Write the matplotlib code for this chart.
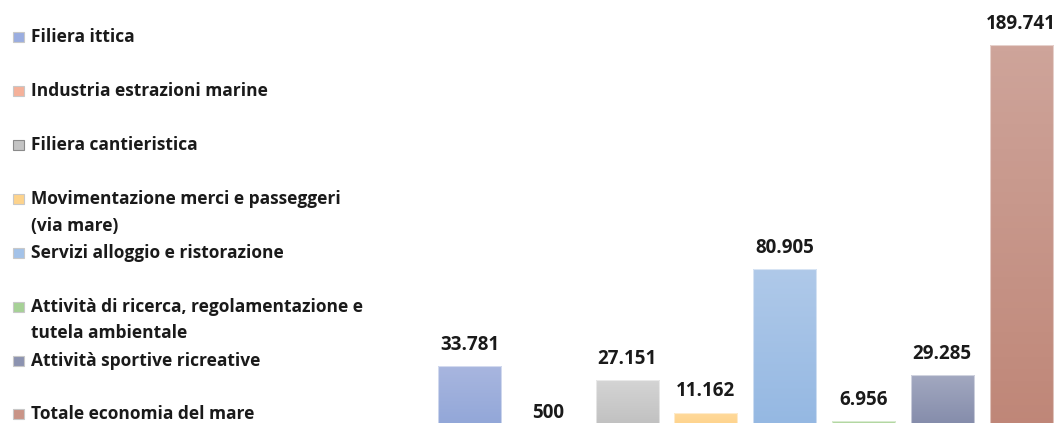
import numpy as np
import matplotlib
matplotlib.use('Agg')
import matplotlib.pyplot as plt
from matplotlib.patches import Rectangle

categories = ['Filiera ittica', 'Industria estrazioni marine', 'Filiera cantieristica',
              'Movimentazione merci e passeggeri\n(via mare)', 'Servizi alloggio e ristorazione',
              'Attività di ricerca, regolamentazione e\ntutela ambientale',
              'Attività sportive ricreative', 'Totale economia del mare']
values = [33781, 500, 27151, 11162, 80905, 6956, 29285, 189741]
# gradient colours (top, bottom) for each bar
top_colors = ['#a8b6df', '#f6bda5', '#d4d4d4', '#ffd99a', '#afc9e9', '#b4d8a4', '#a2a8c0', '#cea49a']
bottom_colors = ['#8ea4d7', '#f2a98a', '#bcbcbc', '#fdcd80', '#93b7e2', '#96c982', '#7e86a6', '#bf8677']
legend_colors = ['#9aade0', '#f5b19a', '#c4c4c4', '#fdd38c', '#a3c2e8', '#a6d196', '#8c93b0', '#c99487']

plt.rcParams['font.family'] = ['Open Sans', 'DejaVu Sans']

W, H = 1059, 423
fig = plt.figure(figsize=(W / 100, H / 100), dpi=100)

# axes placed so the baseline falls just below the image bottom
ax = fig.add_axes([430.1 / W, -12.5 / H, 630.4 / W, 411.6 / H])
ax.set_axis_off()

x = np.arange(len(values))
bars = ax.bar(x, values, width=0.8, color='none', edgecolor='none')
for b, c1, c2 in zip(bars, top_colors, bottom_colors):
    r1 = np.array(matplotlib.colors.to_rgb(c1))
    r2 = np.array(matplotlib.colors.to_rgb(c2))
    t = np.linspace(0, 1, 64)[:, None]
    grad = (r1 * (1 - t) + r2 * t)[:, None, :]
    im = ax.imshow(grad, extent=(b.get_x(), b.get_x() + b.get_width(), 0, b.get_height()),
                   aspect='auto', origin='upper', zorder=1)
    im.set_clip_path(b)
    ax.add_patch(Rectangle((b.get_x(), 0), b.get_width(), b.get_height(), fill=False,
                           edgecolor=(1, 1, 1, 0.5), linewidth=0.8, zorder=2))
    v = b.get_height()
    ax.annotate(f'{v:,}'.replace(',', '.'), (b.get_x() + b.get_width() / 2, v),
                xytext=(0, 8), textcoords='offset points', ha='center', va='bottom',
                fontsize=13.5, fontweight='bold', color='#1a1a1a')

ax.set_xlim(-0.5, 7.5)
ax.set_ylim(0, 200000)

# legend on the left
row_y = [37, 91, 145, 199, 253, 307, 361, 414]
for lab, col, yy in zip(categories, legend_colors, row_y):
    fig.add_artist(Rectangle((13 / W, 1 - (yy + 5) / H), 11 / W, 10 / H,
                             transform=fig.transFigure, facecolor=col,
                             edgecolor='#c8c8c8' if lab != 'Filiera cantieristica' else '#8a8a8a',
                             linewidth=0.8))
    for j, line in enumerate(lab.split('\n')):
        fig.text(31 / W, 1 - (yy + 26.5 * j) / H, line, ha='left', va='center',
                 fontsize=12.5, fontweight='bold', color='#1a1a1a')

fig.savefig('out.png', dpi=100)
